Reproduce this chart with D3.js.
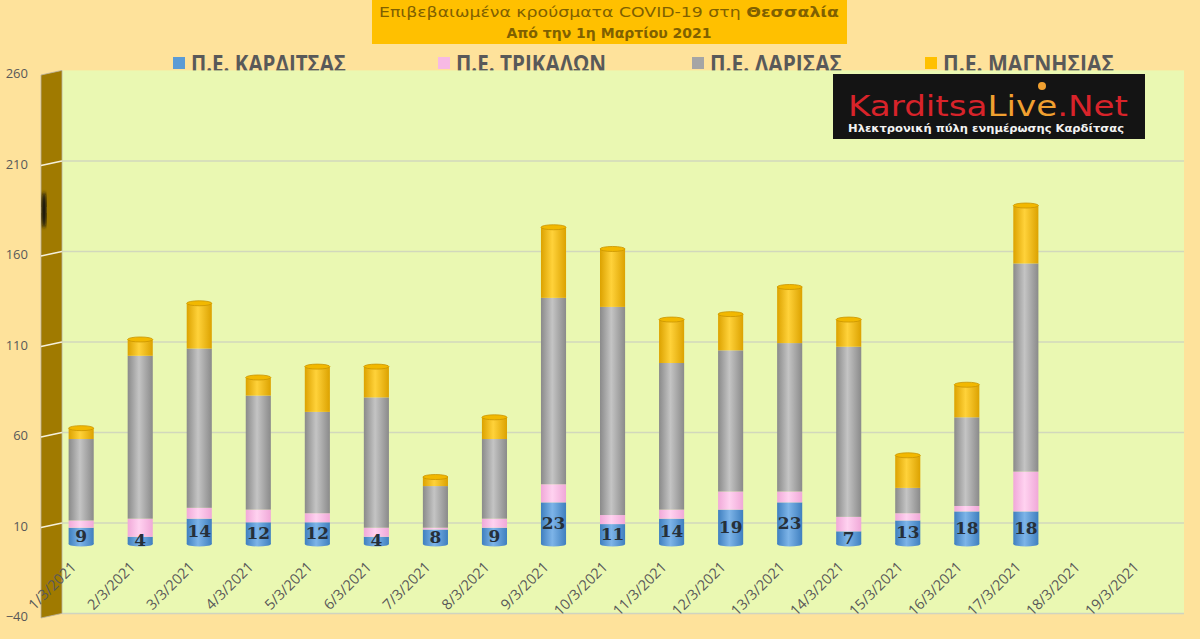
<!DOCTYPE html>
<html>
<head>
<meta charset="utf-8">
<script src="https://cdn.jsdelivr.net/npm/d3@7"></script>
<style>
  body { margin: 0; background: #fee29b; }
  svg { display: block; }
</style>
</head>
<body>
<script>
// data
const categories = ["1/3/2021", "2/3/2021", "3/3/2021", "4/3/2021", "5/3/2021", "6/3/2021", "7/3/2021",
  "8/3/2021", "9/3/2021", "10/3/2021", "11/3/2021", "12/3/2021", "13/3/2021", "14/3/2021",
  "15/3/2021", "16/3/2021", "17/3/2021", "18/3/2021", "19/3/2021"];
const karditsa = [9, 4, 14, 12, 12, 4, 8, 9, 23, 11, 14, 19, 23, 7, 13, 18, 18];
const trikala  = [4, 10, 6, 7, 5, 5, 1, 5, 10, 5, 5, 10, 6, 8, 4, 3, 22];
const larisa   = [45, 90, 88, 63, 56, 72, 23, 44, 103, 115, 81, 78, 82, 94, 14, 49, 115];
const magnisia = [6, 9, 25, 10, 25, 17, 5, 12, 39, 32, 24, 20, 31, 15, 18, 18, 32];
const seriesNames = ["Π.Ε. ΚΑΡΔΙΤΣΑΣ", "Π.Ε. ΤΡΙΚΑΛΩΝ", "Π.Ε. ΛΑΡΙΣΑΣ", "Π.Ε. ΜΑΓΝΗΣΙΑΣ"];
const yTicks = [-40, 10, 60, 110, 160, 210, 260];

const w = 1200, h = 639;
const keys = ["k", "t", "l", "m"];
const colors = {
  k: ["#3f7fbf", "#7db4e8", "#4a8ac8"],
  t: ["#f0a8d8", "#ffd2f0", "#f4b6e0"],
  l: ["#8a8a8a", "#c4c4c4", "#909090"],
  m: ["#dca200", "#ffd23a", "#e2a800"]
};
const legendColors = ["#5b9bd5", "#f7b9e4", "#a5a5a5", "#ffc000"];

const table = categories.map((c, i) => ({
  cat: c,
  k: karditsa[i] || 0, t: trikala[i] || 0, l: larisa[i] || 0, m: magnisia[i] || 0,
  has: karditsa[i] != null
}));
const stacked = d3.stack().keys(keys)(table);

const xScale = d3.scaleBand().domain(categories).range([51.5, 1173.6]).paddingInner(0.575).paddingOuter(0.29);
const yScale = d3.scaleLinear().domain([-40, 260]).range([616.4, 73.4]);
const back = -3; // back wall offset for gridlines

const svg = d3.select("body").append("svg").attr("width", w).attr("height", h);
const defs = svg.append("defs");

keys.forEach(k => {
  const g = defs.append("linearGradient").attr("id", "g-" + k).attr("x1", "0").attr("x2", "1");
  g.append("stop").attr("offset", "0").attr("stop-color", colors[k][0]);
  g.append("stop").attr("offset", "0.45").attr("stop-color", colors[k][1]);
  g.append("stop").attr("offset", "1").attr("stop-color", colors[k][0]);
});
defs.append("filter").attr("id", "blur").append("feGaussianBlur").attr("stdDeviation", 1.5);

// title box
svg.append("rect").attr("x", 372).attr("y", 0).attr("width", 475).attr("height", 44).attr("fill", "#ffc000");
const t1 = svg.append("text").attr("x", 609).attr("y", 17).attr("text-anchor", "middle")
  .attr("font-family", "DejaVu Sans").attr("font-size", 14).attr("fill", "#7f6000")
  .attr("textLength", 460).attr("lengthAdjust", "spacingAndGlyphs");
t1.append("tspan").text("Επιβεβαιωμένα κρούσματα COVID-19 στη ");
t1.append("tspan").attr("font-weight", "bold").text("Θεσσαλία");
svg.append("text").attr("x", 609).attr("y", 38).attr("text-anchor", "middle")
  .attr("font-family", "DejaVu Sans").attr("font-size", 14).attr("font-weight", "bold").attr("fill", "#7f6000")
  .text("Από την 1η Μαρτίου 2021");

// legend (the plot area overlaps its lower part)
const legendX = [173, 438, 692, 925];
const legendLen = [155, 150, 132, 171];
seriesNames.forEach((name, i) => {
  svg.append("rect").attr("x", legendX[i]).attr("y", 57).attr("width", 12).attr("height", 12)
    .attr("fill", legendColors[i]);
  svg.append("text").attr("x", legendX[i] + 18).attr("y", 72)
    .attr("font-family", "Open Sans").attr("font-weight", "bold").attr("font-size", 23)
    .attr("fill", "#595959").attr("textLength", legendLen[i]).attr("lengthAdjust", "spacingAndGlyphs")
    .text(name);
});

// plot area
const plotTop = yScale(260) + back, plotBottom = yScale(-40) + back;
svg.append("rect").attr("x", 62).attr("y", plotTop).attr("width", 1184 - 62).attr("height", plotBottom - plotTop)
  .attr("fill", "#eaf8b2");
svg.append("line").attr("x1", 62).attr("x2", 1184).attr("y1", plotBottom).attr("y2", plotBottom)
  .attr("stroke", "#d0d4c0").attr("stroke-width", 1.5);

// side wall
svg.append("polygon")
  .attr("points", [[41, yScale(260) + 1.6], [62, plotTop], [62, plotBottom], [41, yScale(-40) + 1.6]].join(" "))
  .attr("fill", "#a07a00").attr("stroke", "#b8b0a0").attr("stroke-width", 0.8);
svg.append("ellipse").attr("cx", 44).attr("cy", 210).attr("rx", 2.5).attr("ry", 18)
  .attr("fill", "#111").attr("filter", "url(#blur)");

// gridlines + wall ticks
svg.selectAll(".grid").data(yTicks.slice(1, -1)).enter().append("line")
  .attr("class", "grid")
  .attr("x1", 62).attr("x2", 1184)
  .attr("y1", d => yScale(d) + back).attr("y2", d => yScale(d) + back)
  .attr("stroke", "#d2d8bc").attr("stroke-width", 1.5);
svg.selectAll(".wtick").data(yTicks.slice(1, -1)).enter().append("line")
  .attr("class", "wtick")
  .attr("x1", 41).attr("x2", 62)
  .attr("y1", d => yScale(d) + 1.6).attr("y2", d => yScale(d) + back)
  .attr("stroke", "#f4f0dc").attr("stroke-width", 1.5);

// y axis labels
const yAxis = d3.axisLeft(yScale).tickValues(yTicks).tickSize(0).tickPadding(0);
const ya = svg.append("g").attr("transform", "translate(28,0)").call(yAxis);
ya.select(".domain").remove();
ya.selectAll("text").attr("font-family", "Open Sans").attr("font-size", 13).attr("fill", "#595959");

// x axis labels
const xAxis = d3.axisBottom(xScale).tickSize(0).tickPadding(0);
const xa = svg.append("g").call(xAxis);
xa.select(".domain").remove();
xa.selectAll("text")
  .attr("font-family", "Open Sans").attr("font-size", 14.5).attr("fill", "#595959")
  .attr("text-anchor", "end").attr("dy", null).attr("y", null)
  .attr("transform", "translate(-4,568) rotate(-45)");

// bars
const bw = xScale.bandwidth();
const layer = svg.selectAll(".layer").data(stacked).enter().append("g").attr("class", "layer");
layer.selectAll("rect")
  .data(s => s.map((d, i) => ({ d, i, key: s.key })).filter(o => o.d.data.has))
  .enter().append("rect")
  .attr("x", o => xScale(o.d.data.cat))
  .attr("y", o => yScale(o.d[1]))
  .attr("width", bw)
  .attr("height", o => yScale(o.d[0]) - yScale(o.d[1]))
  .attr("fill", o => "url(#g-" + o.key + ")");

// cylinder base and top caps
const shown = table.filter(d => d.has);
svg.selectAll(".base").data(shown).enter().append("ellipse")
  .attr("cx", d => xScale(d.cat) + bw / 2).attr("cy", yScale(0))
  .attr("rx", bw / 2).attr("ry", 2.5).attr("fill", "url(#g-k)");
svg.selectAll(".cap").data(stacked[3].filter(d => d.data.has)).enter().append("ellipse")
  .attr("cx", d => xScale(d.data.cat) + bw / 2).attr("cy", d => yScale(d[1]))
  .attr("rx", bw / 2).attr("ry", 2.5)
  .attr("fill", "#f2b800").attr("stroke", "#c99400").attr("stroke-width", 0.8);

// data labels for Karditsa
svg.selectAll(".lbl").data(stacked[0].filter(d => d.data.has)).enter().append("text")
  .attr("x", d => xScale(d.data.cat) + bw / 2)
  .attr("y", d => yScale((d[0] + d[1]) / 2))
  .attr("dy", "0.35em")
  .attr("text-anchor", "middle")
  .attr("font-family", "DejaVu Serif").attr("font-weight", "bold").attr("font-size", 17)
  .attr("fill", "#26303a")
  .text(d => d.data.k);

// logo
const logo = svg.append("g");
logo.append("rect").attr("x", 833).attr("y", 74).attr("width", 312).attr("height", 65).attr("fill", "#141414");
const lt = logo.append("text").attr("x", 848).attr("y", 116)
  .attr("font-family", "DejaVu Sans").attr("font-size", 28)
  .attr("textLength", 280).attr("lengthAdjust", "spacingAndGlyphs");
lt.append("tspan").attr("fill", "#d8232a").text("Karditsa");
lt.append("tspan").attr("fill", "#f0a030").text("Live");
lt.append("tspan").attr("fill", "#d8232a").text(".Net");
logo.append("circle").attr("cx", 1042).attr("cy", 86).attr("r", 4).attr("fill", "#f0a030");
logo.append("text").attr("x", 848).attr("y", 132)
  .attr("font-family", "DejaVu Sans").attr("font-weight", "bold").attr("font-size", 11).attr("fill", "#f2f2f2")
  .attr("textLength", 276).attr("lengthAdjust", "spacingAndGlyphs")
  .text("Ηλεκτρονική πύλη ενημέρωσης Καρδίτσας");
</script>
</body>
</html>
